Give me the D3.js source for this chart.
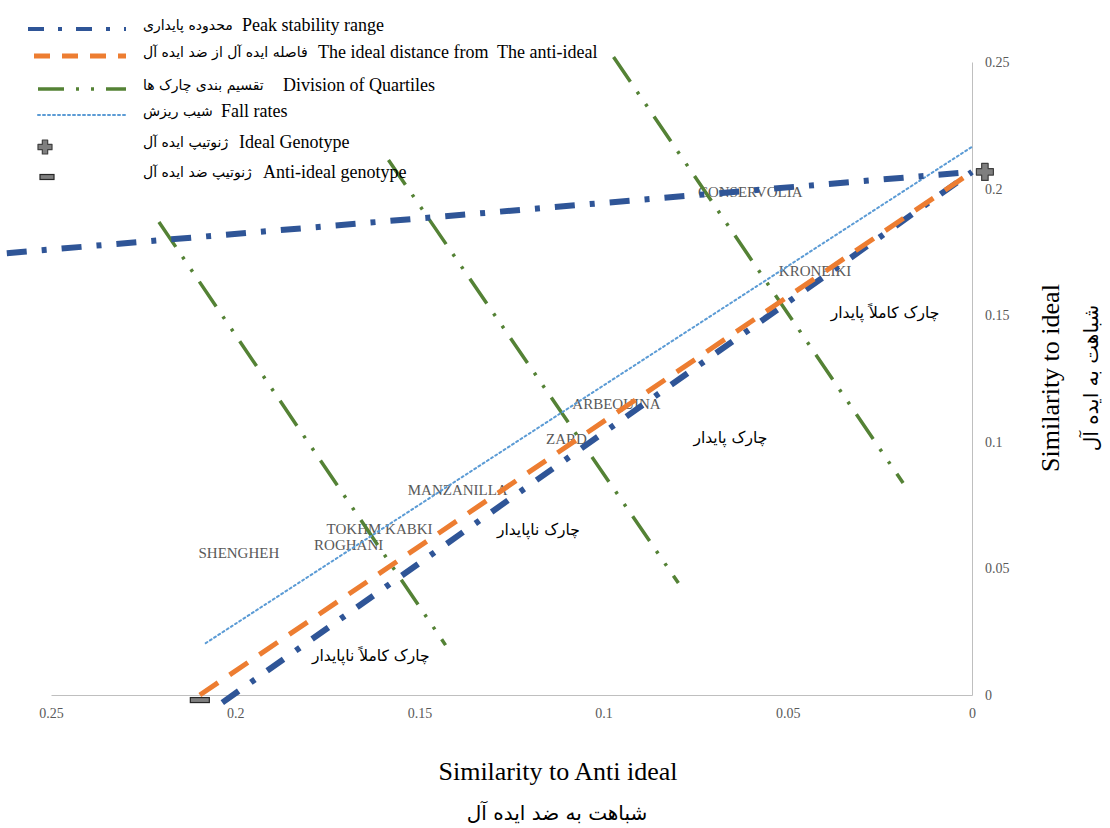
<!DOCTYPE html>
<html>
<head>
  <meta charset="utf-8">
  <script src="https://d3js.org/d3.v7.min.js"></script>
  <style>
    body { margin: 0; background: #fff; }
    .chart { width: 1110px; height: 828px; }
    .serif { font-family: "Liberation Serif", "Times New Roman", serif; }
    .fa { font-family: "DejaVu Sans", sans-serif; }
    .pre { white-space: pre; }
  </style>
</head>
<body>
  <svg class="chart"></svg>
  <script>
    // Constants
    const WIDTH  = 1110;
    const HEIGHT = 828;
    const PLOT   = { left: 51, right: 972, top: 62, bottom: 695 };

    const COLOR_BLUE   = "#2F5597";
    const COLOR_ORANGE = "#ED7D31";
    const COLOR_GREEN  = "#548235";
    const COLOR_LIGHT  = "#5B9BD5";
    const COLOR_AXIS   = "#BFBFBF";
    const COLOR_TEXT   = "#595959";

    // axis ticks
    const X_TICKS = [0.25, 0.2, 0.15, 0.1, 0.05, 0];
    const X_TICK_LABELS = ["0.25", "0.2", "0.15", "0.1", "0.05", "0"];
    const Y_TICKS = [0, 0.05, 0.1, 0.15, 0.2, 0.25];
    const Y_TICK_LABELS = ["0", "0.05", "0.1", "0.15", "0.2", "0.25"];

    // lines (x = similarity to anti ideal, y = similarity to ideal)
    const peakRangeX = [0.262, 0];
    const peakRangeY = [0.1745, 0.2066];
    const peakDiagX  = [0.2035, 0];
    const peakDiagY  = [-0.003, 0.2066];
    const idealDistX = [0.2096, 0];
    const idealDistY = [0, 0.2066];
    const fallX      = [0.208, 0];
    const fallY      = [0.0205, 0.2165];
    const quartileX  = [[0.2207, 0.1429], [0.1584, 0.0797], [0.0973, 0.0187]];
    const quartileY  = [[0.1868, 0.0197], [0.2113, 0.0442], [0.2520, 0.0837]];

    // ideal / anti-ideal genotypes
    const idealPoint     = [-0.0035, 0.2066];
    const antiIdealPoint = [0.2096, -0.002];

    // genotypes
    const genotypes = ["CONSERVOLIA", "KRONEIKI", "ARBEQUINA", "ZARD", "MANZANILLA", "TOKHM KABKI", "ROGHANI", "SHENGHEH"];
    const genoX = [0.0602, 0.0426, 0.0965, 0.1101, 0.1396, 0.1608, 0.1692, 0.1990];
    const genoY = [0.1987, 0.1675, 0.1149, 0.1011, 0.0810, 0.0656, 0.0594, 0.0561];

    // quartile names
    const quartileNames = ["چارک کاملاً پایدار", "چارک پایدار", "چارک ناپایدار", "چارک کاملاً ناپایدار"];
    const quartileNameX = [0.0236, 0.0656, 0.1177, 0.1632];
    const quartileNameY = [0.1509, 0.1015, 0.0652, 0.0154];

    // legend
    const legendFa = ["محدوده پایداری", "فاصله ایده آل  از ضد ایده آل", "تقسیم بندی چارک ها", "شیب ریزش", "ژنوتیپ ایده آل", "ژنوتیپ ضد ایده آل"];
    const legendEn = ["Peak stability range", "The ideal distance from  The anti-ideal", "Division of Quartiles", "Fall rates", "Ideal Genotype", "Anti-ideal genotype"];
    const legendEnX = [242, 318, 283, 221, 239, 263];
    const legendY   = [25, 52, 85, 111, 142, 172];

    const X_TITLE = "Similarity to Anti ideal";
    const X_TITLE_FA = "شباهت به ضد ایده آل";
    const Y_TITLE = "Similarity to ideal";
    const Y_TITLE_FA = "شباهت به ایده آل";

    const STYLES = {
      peak:     { stroke: COLOR_BLUE,   width: 6,   dash: "20,15,5,15" },
      dist:     { stroke: COLOR_ORANGE, width: 5,   dash: "22,14" },
      quartile: { stroke: COLOR_GREEN,  width: 3.5, dash: "30,12,3,12,3,12" },
      fall:     { stroke: COLOR_LIGHT,  width: 2,   dash: "2,3" }
    };

    const svg = d3.select(".chart").attr("width", WIDTH).attr("height", HEIGHT);

    const xScale = d3.scaleLinear().domain([0.25, 0]).range([PLOT.left, PLOT.right]);
    const yScale = d3.scaleLinear().domain([0, 0.25]).range([PLOT.bottom, PLOT.top]);

    // axes
    const xAxis = d3.axisBottom(xScale).tickValues(X_TICKS)
      .tickFormat((d, i) => X_TICK_LABELS[i]).tickSize(0).tickPadding(13);
    const gx = svg.append("g").attr("transform", `translate(0, ${PLOT.bottom})`).call(xAxis);
    gx.select(".domain").attr("stroke", COLOR_AXIS);
    gx.selectAll("text").attr("class", "serif").style("font-size", "14px").attr("fill", COLOR_TEXT);

    const yAxis = d3.axisRight(yScale).tickValues(Y_TICKS)
      .tickFormat((d, i) => Y_TICK_LABELS[i]).tickSize(0).tickPadding(13);
    const gy = svg.append("g").attr("transform", `translate(${PLOT.right}, 0)`).call(yAxis);
    gy.select(".domain").attr("stroke", COLOR_AXIS);
    gy.selectAll("text").attr("class", "serif").style("font-size", "14px").attr("fill", COLOR_TEXT);

    // axis titles
    svg.append("text").attr("class", "serif")
      .attr("x", 558).attr("y", 780)
      .attr("text-anchor", "middle").style("font-size", "26px").text(X_TITLE);
    svg.append("text").attr("class", "fa")
      .attr("x", 557).attr("y", 820)
      .attr("text-anchor", "middle").style("font-size", "20px").text(X_TITLE_FA);
    svg.append("text").attr("class", "serif")
      .attr("transform", "translate(1059, 378) rotate(-90)")
      .attr("text-anchor", "middle").style("font-size", "26px").text(Y_TITLE);
    svg.append("text").attr("class", "fa")
      .attr("transform", "translate(1098, 378) rotate(-90)")
      .attr("text-anchor", "middle").style("font-size", "20px").text(Y_TITLE_FA);

    // genotype labels
    svg.selectAll(".geno").data(genotypes).enter().append("text")
      .attr("class", "geno serif")
      .attr("x", (d, i) => xScale(genoX[i]))
      .attr("y", (d, i) => yScale(genoY[i]))
      .attr("dy", "0.35em")
      .attr("text-anchor", "middle")
      .style("font-size", "15px")
      .attr("fill", COLOR_TEXT)
      .text(d => d);

    // quartile names
    svg.selectAll(".qname").data(quartileNames).enter().append("text")
      .attr("class", "qname fa")
      .attr("x", (d, i) => xScale(quartileNameX[i]))
      .attr("y", (d, i) => yScale(quartileNameY[i]))
      .attr("dy", "0.35em")
      .attr("text-anchor", "middle")
      .style("font-size", "15.5px")
      .attr("fill", "#000")
      .text(d => d);

    const line = d3.line().x(d => xScale(d[0])).y(d => yScale(d[1]));

    function drawLine(xs, ys, st) {
      const pts = xs.map((x, i) => [x, ys[i]]);
      svg.append("path").datum(pts)
        .attr("d", line)
        .attr("fill", "none")
        .attr("stroke", st.stroke)
        .attr("stroke-width", st.width)
        .attr("stroke-dasharray", st.dash)
        .attr("stroke-linecap", st === STYLES.fall ? "round" : "butt");
    }

    quartileX.forEach((xs, i) => drawLine(xs, quartileY[i], STYLES.quartile));
    drawLine(fallX, fallY, STYLES.fall);
    drawLine(peakRangeX, peakRangeY, STYLES.peak);
    drawLine(peakDiagX, peakDiagY, STYLES.peak);
    drawLine(idealDistX, idealDistY, STYLES.dist);

    // markers
    function plusMarker(g, size) {
      const a = size / 2, w = size * 0.19;
      g.append("path")
        .attr("d", `M${-w},${-a}H${w}V${-w}H${a}V${w}H${w}V${a}H${-w}V${w}H${-a}V${-w}H${-w}Z`)
        .attr("fill", "#7F7F7F").attr("stroke", "#404040").attr("stroke-width", 1.2)
        .attr("stroke-linejoin", "round");
    }
    function minusMarker(g, w, h) {
      g.append("rect").attr("x", -w / 2).attr("y", -h / 2).attr("width", w).attr("height", h)
        .attr("fill", "#7F7F7F").attr("stroke", "#262626").attr("stroke-width", 1.2);
    }

    plusMarker(svg.append("g").attr("transform", `translate(${xScale(idealPoint[0])}, ${yScale(idealPoint[1])})`), 17);
    minusMarker(svg.append("g").attr("transform", `translate(${xScale(antiIdealPoint[0])}, ${yScale(antiIdealPoint[1])})`), 19, 5);

    // legend
    const legendKeys = [STYLES.peak, STYLES.dist, STYLES.quartile, STYLES.fall];
    const legendDash = ["16,14,4,14", "16,12", "26,12,3,12,3,12", "2,3"];
    const legendStart = [28, 34, 38, 38];
    legendKeys.forEach((st, i) => {
      svg.append("line")
        .attr("x1", legendStart[i]).attr("x2", 126)
        .attr("y1", legendY[i] + 4).attr("y2", legendY[i] + 4)
        .attr("stroke", st.stroke)
        .attr("stroke-width", i === 0 ? 4 : st.width)
        .attr("stroke-dasharray", legendDash[i])
        .attr("stroke-linecap", st === STYLES.fall ? "round" : "butt");
    });
    plusMarker(svg.append("g").attr("transform", `translate(45, ${legendY[4] + 5})`), 14);
    minusMarker(svg.append("g").attr("transform", `translate(47, ${legendY[5] + 5})`), 14, 5);

    legendFa.forEach((t, i) => {
      svg.append("text").attr("class", "fa")
        .attr("x", 143).attr("y", legendY[i] + 5)
        .style("font-size", "14px").attr("fill", "#000").text(t);
      svg.append("text").attr("class", "serif pre")
        .attr("x", legendEnX[i]).attr("y", legendY[i] + 6)
        .style("font-size", "18px").attr("fill", "#000").text(legendEn[i]);
    });
  </script>
</body>
</html>
